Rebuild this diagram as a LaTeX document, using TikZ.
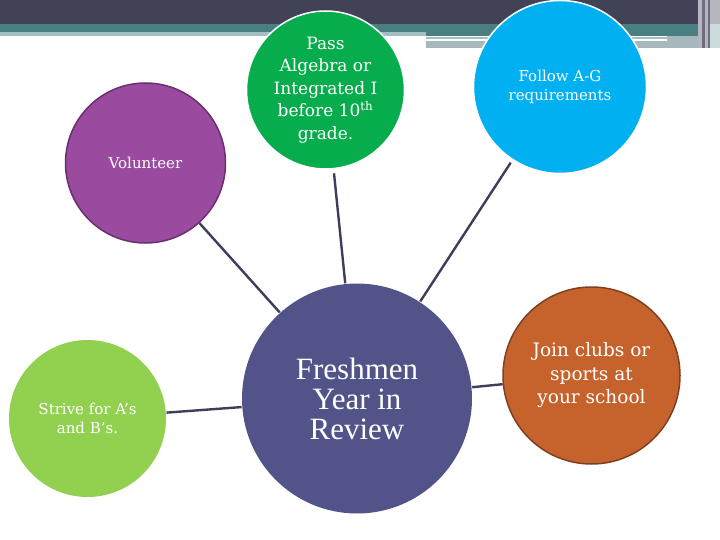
\documentclass[tikz,border=0pt]{standalone}
\usepackage{fontspec}
\setmainfont{DejaVu Serif}
\newfontfamily\reviewfont{Liberation Serif}
\usepackage{xcolor}
\usepackage{tikz}
\usetikzlibrary{positioning}
\definecolor{headdark}{HTML}{414255}
\definecolor{headteal}{HTML}{4A7F82}
\definecolor{headlight}{HTML}{A4BFC4}
\definecolor{headgrey}{HTML}{A6B8BB}
\definecolor{headside}{HTML}{B6B6C0}
\definecolor{headstripe}{HTML}{6E6E7E}
\definecolor{headpale}{HTML}{CCDCDD}
\definecolor{linkcol}{HTML}{3E3E5C}
\definecolor{purplefill}{HTML}{9B4B9F}
\definecolor{purpleedge}{HTML}{6A2F6E}
\definecolor{greenfill}{HTML}{07AD4D}
\definecolor{bluefill}{HTML}{00B0F0}
\definecolor{limefill}{HTML}{92D050}
\definecolor{centerfill}{HTML}{525388}
\definecolor{orangefill}{HTML}{C6632C}
\definecolor{orangeedge}{HTML}{7F4020}
\tikzset{
    bubble/.style={circle, inner sep=0pt, text=white, align=center, line width=1.5pt},
    smalltext/.style={font=\fontsize{15pt}{19.5pt}\selectfont},
    midtext/.style={font=\fontsize{17pt}{22.5pt}\selectfont},
    bigtext/.style={font=\fontsize{18.5pt}{23.5pt}\selectfont},
    link/.style={draw=linkcol, line width=2.4pt},
}

\begin{document}
\begin{tikzpicture}[x=1pt, y=-1pt]
    \useasboundingbox (0,0) rectangle (720,540);
    % header bands
    \fill[headdark] (0,0) rectangle (698,24);
    \fill[headteal] (0,24) rectangle (698,32);
    \fill[headteal] (426,24) rectangle (698,36);
    \fill[headlight] (0,32) rectangle (426,36);
    \fill[headlight] (426,37) rectangle (667,39);
    \fill[headgrey] (426,41) rectangle (698,48);
    \fill[headgrey] (667,36) rectangle (698,48);
    \fill[headside] (698,0) rectangle (720,48);
    \fill[headstripe] (702,0) rectangle (705,48);
    \fill[headstripe] (708,0) rectangle (710,48);
    \fill[headpale] (710,24) rectangle (720,48);
    % bubbles
    \node[bubble, smalltext, fill=purplefill, draw=purpleedge, minimum size=160pt] (volunteer) at (145.5,163) {Volunteer};
    \node[bubble, midtext, fill=greenfill, draw=white, minimum size=158pt] (algebra) at (325.5,90) {Pass\\Algebra or\\Integrated I\\before 10\textsuperscript{th}\\grade.};
    \node[bubble, smalltext, fill=bluefill, draw=white, minimum size=173pt] (agreq) at (560,87) {Follow A-G\\requirements};
    \node[bubble, smalltext, fill=limefill, minimum size=157pt] (grades) at (87.5,418.5) {Strive for A’s\\and B’s.};
    \node[bubble, font=\reviewfont\fontsize{31pt}{30pt}\selectfont, fill=centerfill, minimum size=230pt] (review) at (357,398.5) {Freshmen\\Year in\\Review};
    \node[bubble, bigtext, fill=orangefill, draw=orangeedge, minimum size=177pt] (clubs) at (591.5,375.5) {Join clubs or\\sports at\\your school};
    % links
    \draw[link] (volunteer) -- (review);
    \draw[link, shorten <=4pt] (algebra) -- (review);
    \draw[link, shorten <=3pt] (agreq) -- (review);
    \draw[link] (grades) -- (review);
    \draw[link] (review) -- (clubs);
\end{tikzpicture}
\end{document}
